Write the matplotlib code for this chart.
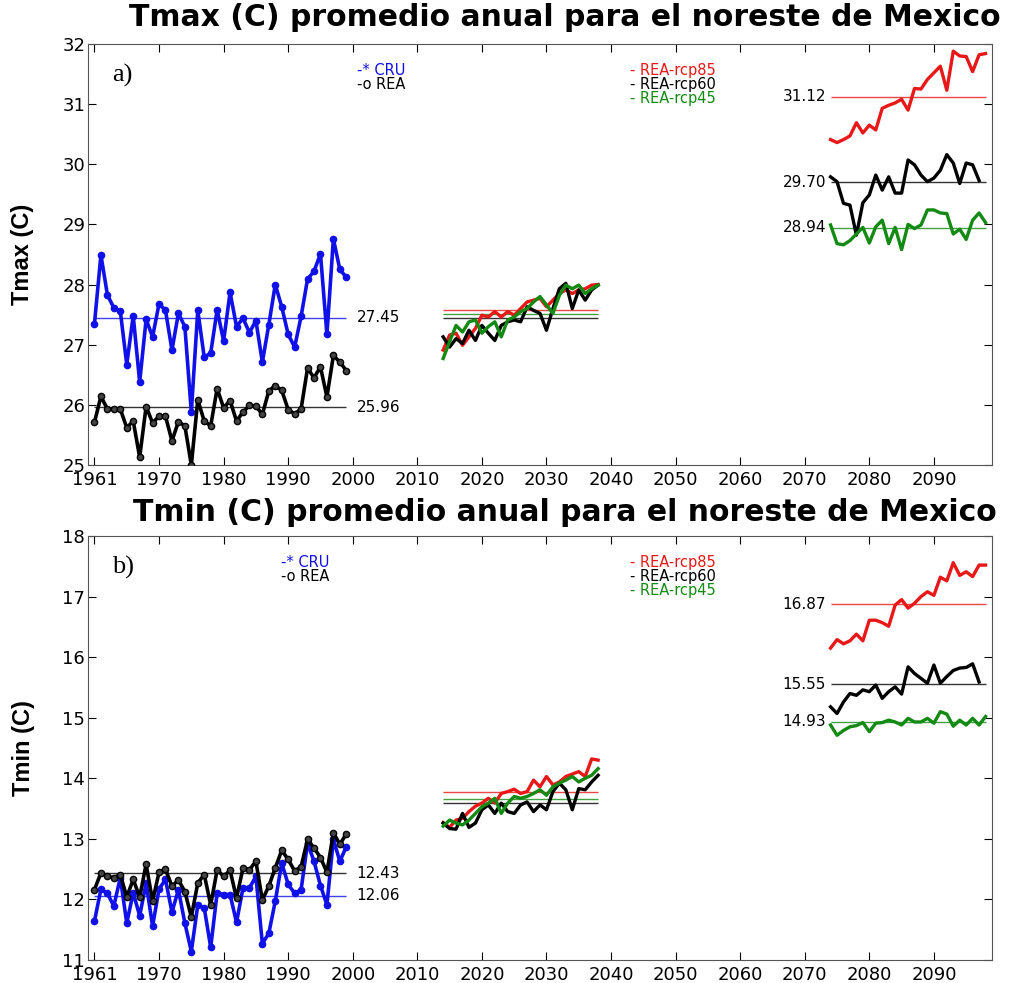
import numpy as np
import matplotlib
matplotlib.use('Agg')
import matplotlib.pyplot as plt

# x positions (historical series sit one slot left of their label, like the original)
hist_years = np.arange(1960, 2000)
mid_years = np.arange(2014, 2039)
far_years = np.arange(2074, 2099)
xtick_pos = np.arange(1960, 2100, 10)
xtick_labels = ['1961'] + [str(y) for y in range(1970, 2100, 10)]

# ---------------- Tmax ----------------
tmax_cru = [27.35, 28.49, 27.83, 27.61, 27.56, 26.67, 27.48, 26.38, 27.42, 27.13,
            27.68, 27.57, 26.91, 27.52, 27.30, 25.88, 27.57, 26.79, 26.86, 27.58,
            27.06, 27.87, 27.30, 27.44, 27.20, 27.40, 26.71, 27.33, 28.00, 27.63,
            27.17, 26.96, 27.47, 28.09, 28.22, 28.51, 27.17, 28.76, 28.25, 28.12]
tmax_rea = [25.71, 26.14, 25.93, 25.93, 25.93, 25.62, 25.73, 25.13, 25.97, 25.70,
            25.81, 25.81, 25.40, 25.72, 25.65, 25.00, 26.08, 25.73, 25.65, 26.27,
            25.95, 26.07, 25.73, 25.88, 25.99, 25.98, 25.84, 26.23, 26.32, 26.24,
            25.92, 25.85, 25.93, 26.61, 26.45, 26.63, 26.13, 26.82, 26.71, 26.57]
tmax_r85_mid = [26.91, 27.16, 27.19, 26.99, 27.13, 27.27, 27.49, 27.46, 27.55, 27.46,
                27.55, 27.49, 27.60, 27.71, 27.74, 27.77, 27.63, 27.74, 27.85, 27.91,
                27.85, 27.91, 27.93, 27.99, 28.00]
tmax_r60_mid = [27.13, 26.96, 27.10, 27.02, 27.24, 27.07, 27.32, 27.19, 27.07, 27.32,
                27.38, 27.41, 27.38, 27.63, 27.57, 27.52, 27.24, 27.60, 27.93, 28.02,
                27.60, 27.91, 27.74, 27.91, 27.99]
tmax_r45_mid = [26.77, 27.05, 27.32, 27.21, 27.38, 27.41, 27.19, 27.30, 27.38, 27.13,
                27.41, 27.46, 27.55, 27.60, 27.71, 27.80, 27.66, 27.52, 27.82, 27.99,
                27.93, 27.99, 27.85, 27.93, 27.99]
tmax_r85_far = [30.41, 30.36, 30.41, 30.47, 30.69, 30.52, 30.65, 30.57, 30.93, 30.98,
                31.02, 31.08, 30.90, 31.26, 31.25, 31.41, 31.52, 31.63, 31.23, 31.88,
                31.80, 31.79, 31.54, 31.82, 31.84]
tmax_r60_far = [29.79, 29.71, 29.35, 29.32, 28.82, 29.36, 29.49, 29.82, 29.57, 29.79,
                29.52, 29.52, 30.07, 29.99, 29.82, 29.71, 29.77, 29.90, 30.16, 30.02,
                29.68, 30.02, 29.99, 29.73]
tmax_r45_far = [28.99, 28.68, 28.66, 28.73, 28.84, 28.95, 28.69, 28.96, 29.07, 28.68,
                28.95, 28.58, 29.00, 28.93, 28.99, 29.24, 29.24, 29.19, 29.18, 28.84,
                28.92, 28.75, 29.07, 29.19, 29.03]
tmax_hist_means = [27.45, 25.96]          # CRU, REA
tmax_mid_means = [27.57, 27.45, 27.51]    # rcp85, rcp60, rcp45
tmax_far_means = [31.12, 29.70, 28.94]

# ---------------- Tmin ----------------
tmin_cru = [11.64, 12.17, 12.10, 11.89, 12.36, 11.61, 12.11, 11.73, 12.27, 11.56,
            12.17, 12.33, 11.79, 12.16, 11.61, 11.14, 11.91, 11.86, 11.21, 12.11,
            12.08, 12.08, 11.62, 12.19, 12.19, 12.38, 11.27, 11.44, 11.97, 12.60,
            12.25, 12.10, 12.16, 12.93, 12.63, 12.23, 11.91, 12.99, 12.63, 12.87]
tmin_rea = [12.16, 12.44, 12.38, 12.36, 12.41, 12.04, 12.33, 12.04, 12.58, 11.97,
            12.45, 12.50, 12.22, 12.32, 12.13, 11.71, 12.27, 12.41, 11.91, 12.49,
            12.38, 12.48, 12.02, 12.52, 12.49, 12.63, 11.99, 12.22, 12.52, 12.81,
            12.66, 12.47, 12.54, 12.99, 12.85, 12.69, 12.45, 13.10, 12.91, 13.08]
tmin_r85_mid = [13.27, 13.19, 13.31, 13.34, 13.45, 13.54, 13.59, 13.67, 13.59, 13.75,
                13.78, 13.82, 13.75, 13.78, 13.97, 13.86, 14.03, 13.89, 13.94, 14.03,
                14.07, 14.11, 14.03, 14.32, 14.30]
tmin_r60_mid = [13.26, 13.17, 13.16, 13.42, 13.19, 13.26, 13.48, 13.56, 13.42, 13.59,
                13.45, 13.42, 13.56, 13.61, 13.45, 13.56, 13.48, 13.78, 13.92, 13.81,
                13.48, 13.83, 13.81, 13.94, 14.05]
tmin_r45_mid = [13.21, 13.31, 13.26, 13.23, 13.31, 13.42, 13.53, 13.59, 13.67, 13.42,
                13.59, 13.70, 13.67, 13.70, 13.75, 13.81, 13.72, 13.86, 13.92, 13.97,
                14.03, 13.94, 14.00, 14.05, 14.16]
tmin_r85_far = [16.15, 16.29, 16.22, 16.27, 16.38, 16.27, 16.61, 16.61, 16.57, 16.51,
                16.86, 16.95, 16.81, 16.89, 17.00, 17.08, 17.02, 17.32, 17.26, 17.56,
                17.35, 17.41, 17.33, 17.52, 17.52]
tmin_r60_far = [15.18, 15.07, 15.26, 15.40, 15.37, 15.46, 15.43, 15.54, 15.32, 15.43,
                15.51, 15.39, 15.84, 15.73, 15.65, 15.57, 15.87, 15.57, 15.68, 15.78,
                15.82, 15.83, 15.89, 15.59]
tmin_r45_far = [14.88, 14.71, 14.79, 14.85, 14.87, 14.92, 14.77, 14.91, 14.92, 14.96,
                14.93, 14.88, 14.99, 14.93, 14.93, 14.99, 14.91, 15.10, 15.06, 14.86,
                14.96, 14.88, 14.99, 14.88, 15.02]
tmin_hist_means = [12.06, 12.43]
tmin_mid_means = [13.77, 13.59, 13.65]
tmin_far_means = [16.87, 15.55, 14.93]

BLUE = '#1010e8'
RED = '#e81818'
GREEN = '#138a13'
BLACK = 'black'
rcp_colors = [RED, BLACK, GREEN]
rcp_names = ['- REA-rcp85', '- REA-rcp60', '- REA-rcp45']


def draw_panel(ax, cru, rea, mid, far, hist_means, mid_means, far_means,
               ylim, ylabel, letter, hist_leg_x):
    # historical series
    ax.plot(hist_years, cru, '-o', color=BLUE, lw=2.6, ms=4.5, zorder=3)
    ax.plot(hist_years, rea, '-o', color=BLACK, lw=2.6, ms=4.5, mfc='#444444', zorder=3)
    for m, c in zip(hist_means, [BLUE, BLACK]):
        ax.hlines(m, hist_years[0], hist_years[-1], color=c, lw=1, alpha=0.8, zorder=2)
        ax.text(2000.6, m, '%.2f' % m, fontsize=11, va='center', ha='left')
    # scenario series
    for series, m, c in zip(mid, mid_means, rcp_colors):
        ax.plot(mid_years[:len(series)], series, '-', color=c, lw=2.4, zorder=3)
        ax.hlines(m, mid_years[0], mid_years[-1], color=c, lw=1, alpha=0.8, zorder=2)
    for series, m, c in zip(far, far_means, rcp_colors):
        ax.plot(far_years[:len(series)], series, '-', color=c, lw=2.4, zorder=3)
        ax.hlines(m, far_years[0], far_years[-1], color=c, lw=1, alpha=0.8, zorder=2)
        ax.text(2073.3, m, '%.2f' % m, fontsize=11, va='center', ha='right')

    ax.set_xlim(1959, 2099)
    ax.set_ylim(*ylim)
    ax.set_xticks(xtick_pos)
    ax.set_xticklabels(xtick_labels)
    ax.set_yticks(np.arange(ylim[0], ylim[1] + 1))
    ax.tick_params(direction='in', top=True, right=True, length=6,
                   labelsize=13, pad=2)
    ax.tick_params(axis='x', pad=4)
    for s in ax.spines.values():
        s.set_color('#555555')
    ax.set_ylabel(ylabel, fontsize=17, fontweight='bold',
                  family=['Liberation Sans Narrow', 'Liberation Sans'], labelpad=20)

    ax.text(0.027, 0.925, letter, transform=ax.transAxes, fontsize=19,
            family='Liberation Serif', va='center')
    # legends, written as plain text as in the original
    ax.text(hist_leg_x, 0.937, '-* CRU', color=BLUE, transform=ax.transAxes,
            fontsize=10.5, va='center')
    ax.text(hist_leg_x, 0.904, '-o REA', color=BLACK, transform=ax.transAxes,
            fontsize=10.5, va='center')
    for i, (name, c) in enumerate(zip(rcp_names, rcp_colors)):
        ax.text(0.6, 0.937 - i * 0.033, name, color=c, transform=ax.transAxes,
                fontsize=10.5, va='center')


fig = plt.figure(figsize=(10.21, 9.83), dpi=100)
ax1 = fig.add_axes([0.0862, 0.527, 0.8854, 0.4283])
ax2 = fig.add_axes([0.0862, 0.0234, 0.8854, 0.4313])

draw_panel(ax1, tmax_cru, tmax_rea,
           [tmax_r85_mid, tmax_r60_mid, tmax_r45_mid],
           [tmax_r85_far, tmax_r60_far, tmax_r45_far],
           tmax_hist_means, tmax_mid_means, tmax_far_means,
           (25, 32), 'Tmax (C)', 'a)', 0.298)
draw_panel(ax2, tmin_cru, tmin_rea,
           [tmin_r85_mid, tmin_r60_mid, tmin_r45_mid],
           [tmin_r85_far, tmin_r60_far, tmin_r45_far],
           tmin_hist_means, tmin_mid_means, tmin_far_means,
           (11, 18), 'Tmin (C)', 'b)', 0.214)

fig.text(0.553, 0.982, 'Tmax (C) promedio anual para el noreste de Mexico',
         ha='center', va='center', fontsize=21.5, fontweight='bold')
fig.text(0.553, 0.479, 'Tmin (C) promedio anual para el noreste de Mexico',
         ha='center', va='center', fontsize=21.5, fontweight='bold')

fig.savefig('out.png', dpi=100)
